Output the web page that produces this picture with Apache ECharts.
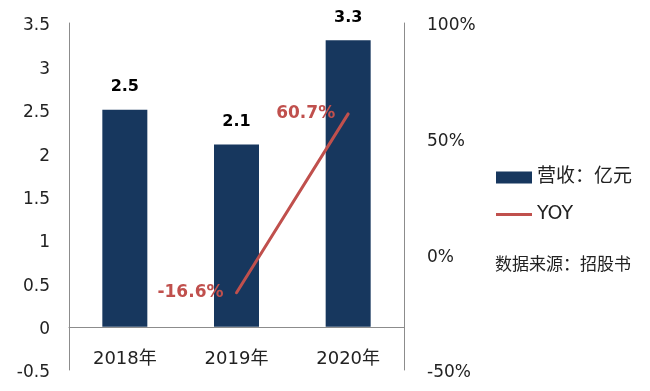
<!DOCTYPE html>
<html><head><meta charset="utf-8">
<script src="https://cdn.jsdelivr.net/npm/echarts@6/dist/echarts.min.js"></script>
<style>html,body{margin:0;padding:0;background:#fff}#c{width:650px;height:391px}</style>
</head><body><div id="c"></div>
<script>
const categories = ['2018年', '2019年', '2020年'];
const revenue = [2.5, 2.1, 3.3];
const yoy = [null, -16.6, 60.7];
const leftTicks = { min: -0.5, max: 3.5, interval: 0.5 };
const rightTicks = { min: -50, max: 100, interval: 50 };
const sourceNote = '数据来源：招股书';

const FONT = '"DejaVu Sans", "Noto Sans CJK SC", sans-serif';
const CJK = '"Noto Sans CJK SC", sans-serif';
const tickRich = { a: { fontSize: 17, color: '#222', fontFamily: FONT, padding: [6, 0, 0, 0] } };
const chart = echarts.init(document.getElementById('c'));
chart.setOption({
  animation: false,
  textStyle: { fontFamily: FONT },
  grid: { left: 69, right: 246, top: 23, bottom: 21, outerBoundsMode: 'none', containLabel: false },
  legend: {
    orient: 'vertical', left: 496, top: 168, itemGap: 18, padding: 0,
    itemWidth: 36, itemHeight: 12,
    textStyle: { fontSize: 19, color: '#222', fontFamily: FONT },
    data: [
      { name: '营收：亿元', icon: 'rect' },
      { name: 'YOY', icon: 'path://M0,0 H36 V3 H0 Z', itemStyle: { color: '#c0504d', opacity: 1 } }
    ]
  },
  graphic: [{
    type: 'text', left: 495, top: 255,
    style: { text: sourceNote, fontSize: 17, fill: '#222', fontFamily: CJK }
  }],
  xAxis: {
    type: 'category', data: categories, position: 'bottom', offset: -43,
    axisLine: { onZero: false, lineStyle: { color: '#8c8c8c', width: 1 } },
    axisTick: { show: false },
    axisLabel: { fontSize: 18, color: '#222', margin: 23, fontFamily: FONT }
  },
  yAxis: [{
    type: 'value', min: leftTicks.min, max: leftTicks.max, interval: leftTicks.interval,
    splitLine: { show: false },
    axisLine: { show: true, lineStyle: { color: '#8c8c8c' } },
    axisTick: { show: false },
    axisLabel: { margin: 19, formatter: v => '{a|' + v + '}', rich: tickRich }
  }, {
    type: 'value', min: rightTicks.min, max: rightTicks.max, interval: rightTicks.interval,
    splitLine: { show: false },
    axisLine: { show: true, lineStyle: { color: '#8c8c8c' } },
    axisTick: { show: false },
    axisLabel: { margin: 23, formatter: v => '{a|' + v + '%}', rich: tickRich }
  }],
  series: [{
    name: '营收：亿元', type: 'bar', data: revenue, barWidth: 45,
    itemStyle: { color: '#17375e' },
    label: { show: true, position: 'top', distance: 15, fontSize: 16, fontWeight: 'bold', color: '#000', fontFamily: FONT }
  }, {
    name: 'YOY', type: 'line', yAxisIndex: 1, data: yoy,
    symbol: 'circle', symbolSize: 0, showSymbol: true,
    connectNulls: false,
    lineStyle: { color: '#c0504d', width: 3, cap: 'round' },
    itemStyle: { color: '#c0504d' },
    label: { show: true, position: 'left', distance: 13, fontSize: 17, fontWeight: 'bold', color: '#c0504d', fontFamily: FONT, formatter: p => p.value + '%' }
  }]
});
</script></body></html>
